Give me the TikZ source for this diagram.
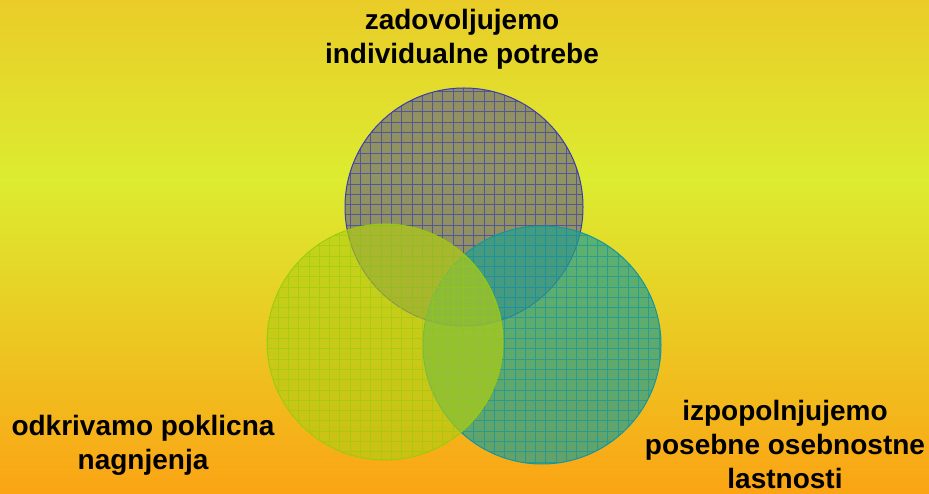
\documentclass[tikz,border=0pt]{standalone}
\usepackage{fontspec}
\setmainfont{Liberation Sans}
\begin{document}
\begin{tikzpicture}[x=1pt,y=1pt,
  lbl/.style={font=\fontsize{28}{34}\selectfont\bfseries, align=center, text=black, inner sep=0pt},
  ]
\definecolor{bgtop}{RGB}{234,204,40}
\definecolor{bgmid}{RGB}{220,236,48}
\definecolor{bgbot}{RGB}{251,164,20}
\definecolor{topfill}{RGB}{125,125,112}
\definecolor{topline}{RGB}{60,60,175}
\definecolor{rightfill}{RGB}{40,160,140}
\definecolor{rightline}{RGB}{20,150,160}
\definecolor{leftfill}{RGB}{180,205,20}
\definecolor{leftline}{RGB}{150,205,10}
\useasboundingbox (0,0) rectangle (929,493);
% background
\shade[top color=bgtop, bottom color=bgmid] (0,313) rectangle (929,493);
\shade[top color=bgmid, bottom color=bgbot] (0,0) rectangle (929,313.5);
% circles
\coordinate (ct) at (464,286);
\coordinate (cr) at (542,148);
\coordinate (cl) at (385,151);
% top circle
\fill[topfill, fill opacity=0.8] (ct) circle (119);
\begin{scope}
  \clip (ct) circle (119);
  \draw[topline, line width=0.9pt, draw opacity=0.7, step=10.3] (330,150) grid (600,420);
\end{scope}
\draw[topline, line width=1pt] (ct) circle (119);
% right circle
\fill[rightfill, fill opacity=0.72] (cr) circle (119);
\begin{scope}
  \clip (cr) circle (119);
  \draw[rightline, line width=0.9pt, draw opacity=0.7, step=10.3] (410,20) grid (670,280);
\end{scope}
\draw[rightline, line width=1pt] (cr) circle (119);
% left circle
\fill[leftfill, fill opacity=0.65] (cl) circle (118);
\begin{scope}
  \clip (cl) circle (118);
  \draw[leftline, line width=0.9pt, draw opacity=0.6, step=10.3] (260,20) grid (510,280);
\end{scope}
\draw[leftline, line width=1pt, draw opacity=0.9] (cl) circle (118);
% labels
\node[lbl] (ttop) at (462,454) {zadovoljujemo\\individualne potrebe};
\node[lbl] (tleft) at (143,48) {odkrivamo poklicna\\nagnjenja};
\node[lbl] (tright) at (785,49) {izpopolnjujemo\\posebne osebnostne\\lastnosti};
\end{tikzpicture}
\end{document}
